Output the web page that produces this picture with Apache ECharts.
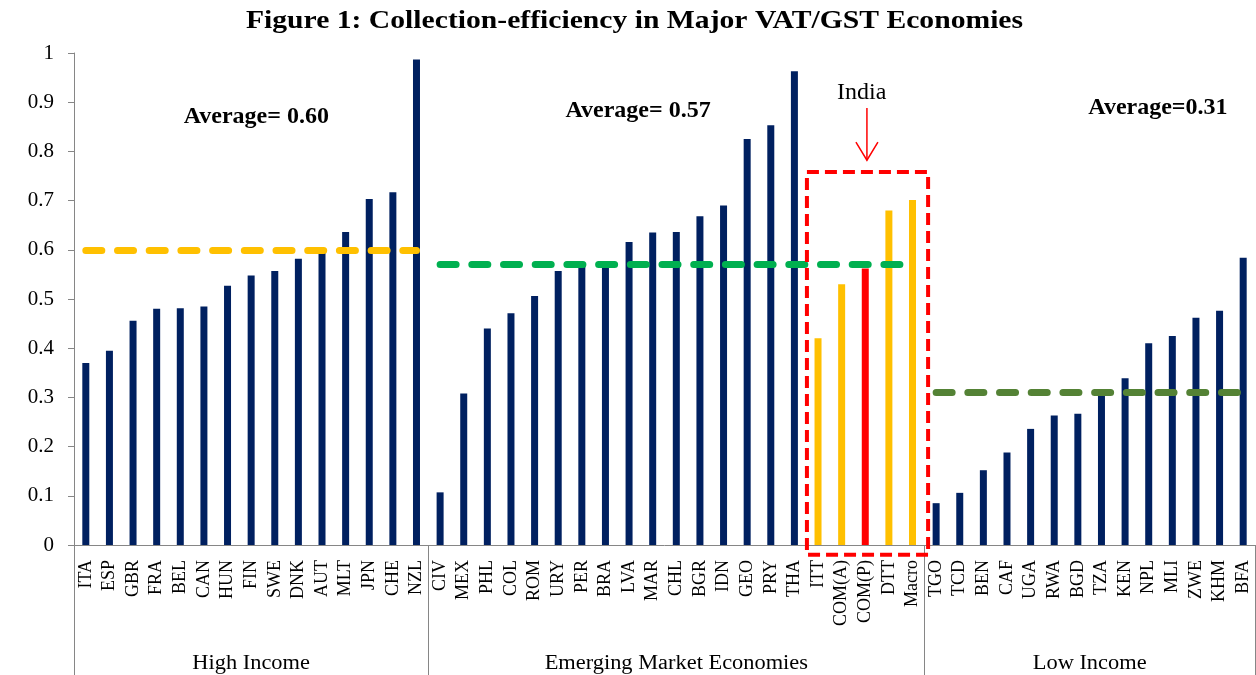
<!DOCTYPE html>
<html>
<head>
<meta charset="utf-8">
<title>Collection-efficiency in Major VAT/GST Economies</title>
<script src="https://cdn.jsdelivr.net/npm/echarts@6/dist/echarts.min.js"></script>
<style>
  html, body { margin: 0; padding: 0; background: #fff; }
  #chart { width: 1256px; height: 675px; }
</style>
</head>
<body>
<div id="chart"></div>
<script>
// data
const highCats = ['ITA', 'ESP', 'GBR', 'FRA', 'BEL', 'CAN', 'HUN', 'FIN', 'SWE', 'DNK', 'AUT', 'MLT', 'JPN', 'CHE', 'NZL']
const highVals = [0.370, 0.395, 0.456, 0.480, 0.481, 0.485, 0.527, 0.548, 0.557, 0.582, 0.600, 0.636, 0.703, 0.717, 0.987]

const emergingCats = ['CIV', 'MEX', 'PHL', 'COL', 'ROM', 'URY', 'PER', 'BRA', 'LVA', 'MAR', 'CHL', 'BGR', 'IDN', 'GEO', 'PRY', 'THA', 'ITT', 'COM(A)', 'COM(P)', 'DTT', 'Macro']
const emergingVals = [0.107, 0.308, 0.440, 0.471, 0.506, 0.557, 0.567, 0.568, 0.616, 0.635, 0.636, 0.668, 0.690, 0.825, 0.853, 0.963, 0.420, 0.530, 0.562, 0.680, 0.701]

const lowCats = ['TGO', 'TCD', 'BEN', 'CAF', 'UGA', 'RWA', 'BGD', 'TZA', 'KEN', 'NPL', 'MLI', 'ZWE', 'KHM', 'BFA']
const lowVals = [0.085, 0.106, 0.152, 0.188, 0.236, 0.263, 0.267, 0.305, 0.339, 0.410, 0.425, 0.462, 0.476, 0.584]

const groupNames = ['High Income', 'Emerging Market Economies', 'Low Income']
const groupAverages = [0.60, 0.57, 0.31]
const averageLabels = ['Average= 0.60', 'Average= 0.57', 'Average=0.31']

const indiaCats = ['ITT', 'COM(A)', 'COM(P)', 'DTT', 'Macro']
const indiaMain = 'COM(P)'

const titleText = 'Figure 1: Collection-efficiency in Major VAT/GST Economies'

// styles
const NAVY = '#002060'
const YELLOW = '#FFC000'
const RED = '#FF0000'
const AXIS_GREY = '#868686'
const avgColors = ['#FFC000', '#00B050', '#548235']
const FONT = '"Liberation Serif", "Times New Roman", serif'

const groupCats = [highCats, emergingCats, lowCats]
const categories = highCats.concat(emergingCats, lowCats)
const values = highVals.concat(emergingVals, lowVals)

// index where each group starts, plus the end
const groupStart = [0]
groupCats.forEach(g => groupStart.push(groupStart[groupStart.length - 1] + g.length))

const chart = echarts.init(document.getElementById('chart'))

const avgLines = groupCats.map((g, i) => [
  { coord: [g[0], groupAverages[i]], lineStyle: { color: avgColors[i] } },
  { coord: [g[g.length - 1], groupAverages[i]] }
])

chart.setOption({
  animation: false,
  backgroundColor: '#fff',
  grid: { left: 74, right: 1, top: 53, bottom: 130 },
  xAxis: {
    type: 'category',
    data: categories,
    axisLine: { lineStyle: { color: AXIS_GREY, width: 1 } },
    axisTick: { show: false },
    axisLabel: {
      rotate: 90,
      interval: 0,
      margin: 15,
      color: '#000',
      fontFamily: FONT,
      fontSize: 18
    }
  },
  yAxis: {
    type: 'value',
    min: 0,
    max: 1,
    interval: 0.1,
    splitLine: { show: false },
    axisLine: { show: true, lineStyle: { color: AXIS_GREY, width: 1 } },
    axisTick: { show: true, length: 6, lineStyle: { color: AXIS_GREY } },
    axisLabel: { color: '#000', fontFamily: FONT, fontSize: 21, margin: 20 }
  },
  series: [{
    type: 'bar',
    data: values,
    barWidth: 7,
    itemStyle: {
      color: p => p.name === indiaMain ? RED : (indiaCats.includes(p.name) ? YELLOW : NAVY)
    },
    markLine: {
      silent: true,
      symbol: 'none',
      label: { show: false },
      lineStyle: { type: [16, 15.7], width: 7, cap: 'round' },
      data: avgLines
    }
  }]
})

// annotations placed through the axes
const px = (i, v) => chart.convertToPixel({ xAxisIndex: 0, yAxisIndex: 0 }, [i, v])
const x0 = px(0, 0)[0]
const step = px(1, 0)[0] - x0
const xAt = idx => x0 + idx * step
const yAt = v => px(0, v)[1]
const axisY = yAt(0)
const bottomY = 675

const graphics = []

// title (the original's lettering is a little wider than the font)
graphics.push({
  type: 'text',
  x: 634.5,
  y: 21,
  scaleX: 1.14,
  style: { text: titleText, font: 'bold 26px ' + FONT, fill: '#000', align: 'center', verticalAlign: 'middle' }
})

// group separators below the axis
groupStart.forEach(s => {
  const x = Math.round(xAt(s - 0.5)) + 0.5
  graphics.push({
    type: 'line',
    shape: { x1: x, y1: axisY, x2: x, y2: bottomY },
    style: { stroke: AXIS_GREY, lineWidth: 1 }
  })
})

// group names
groupNames.forEach((name, i) => {
  const cx = (xAt(groupStart[i] - 0.5) + xAt(groupStart[i + 1] - 0.5)) / 2
  graphics.push({
    type: 'text',
    x: cx,
    y: 663.5,
    scaleX: 1.12,
    style: { text: name, font: '20px ' + FONT, fill: '#000', align: 'center', verticalAlign: 'middle' }
  })
})

// average labels
const avgLabelPos = [[7.22, 0.870], [23.38, 0.882], [45.39, 0.888]]
averageLabels.forEach((t, i) => {
  graphics.push({
    type: 'text',
    x: xAt(avgLabelPos[i][0]),
    y: yAt(avgLabelPos[i][1]),
    style: { text: t, font: 'bold 24px ' + FONT, fill: '#000', align: 'center', verticalAlign: 'middle' }
  })
})

// India box, label and arrow
const boxL = xAt(30.53), boxR = xAt(35.66)
const boxT = yAt(0.758), boxB = yAt(-0.02)
graphics.push({
  type: 'rect',
  shape: { x: boxL, y: boxT, width: boxR - boxL, height: boxB - boxT },
  style: { fill: 'none', stroke: RED, lineWidth: 4, lineDash: [12, 6] },
  z: 100
})
const arrowX = xAt(33.07)
graphics.push({
  type: 'text',
  x: xAt(32.85),
  y: yAt(0.92),
  style: { text: 'India', font: '24px ' + FONT, fill: '#000', align: 'center', verticalAlign: 'middle' }
})
graphics.push({
  type: 'line',
  shape: { x1: arrowX, y1: yAt(0.888), x2: arrowX, y2: yAt(0.782) },
  style: { stroke: RED, lineWidth: 1.5 }
})
graphics.push({
  type: 'polyline',
  shape: { points: [[arrowX - 11, yAt(0.819)], [arrowX, yAt(0.782)], [arrowX + 11, yAt(0.819)]] },
  style: { stroke: RED, lineWidth: 1.5, fill: 'none' }
})

chart.setOption({ graphic: graphics })
</script>
</body>
</html>
